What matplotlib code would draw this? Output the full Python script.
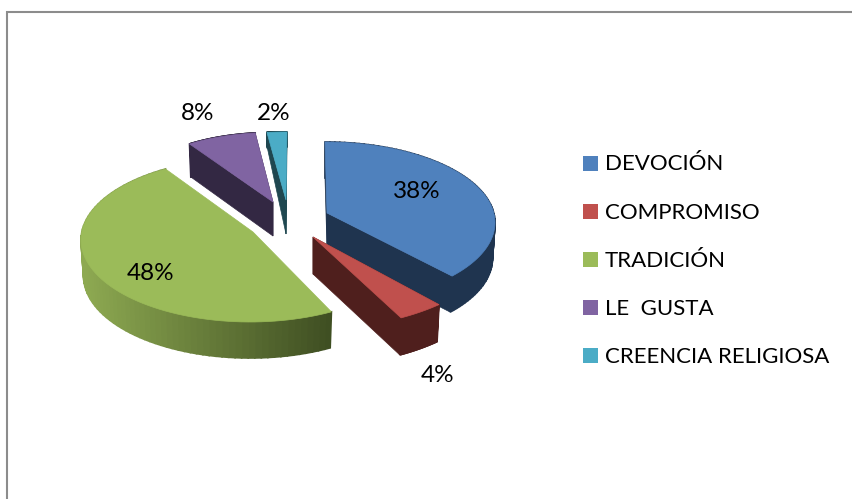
import matplotlib
matplotlib.use("Agg")
import matplotlib.pyplot as plt
from matplotlib.patches import Polygon, Rectangle
import numpy as np

categories = ["DEVOCIÓN", "COMPROMISO", "TRADICIÓN", "LE  GUSTA", "CREENCIA RELIGIOSA"]
values = [38, 4, 48, 8, 2]

top_colors = ["#4F81BD", "#C0504D", "#9BBB59", "#8064A2", "#4BACC6"]
wall_colors = ["#1F344F", "#4F1F1D", "#6A8339", "#332843", "#1F4750"]

# ellipse of each exploded slice in pixels: cx, cy, rx, ry
ellipses = [(325, 222.6, 170, 80.6), (311, 239, 187, 90), (250, 240, 169, 82),
            (273, 192.5, 142, 60), (287, 192, 160, 60)]
apexes = [(327, 213), (313, 237), (253, 232), (273, 202), (286, 200)]
depths = [36, 37, 36, 34, 34]
rim_depths = [36, 37, 36, 33, 15]
# small angle corrections for the perspective of the original
trim_start = [0, 0, 0, 0, 0]
trim_end = [-5.2, 0, 6, 0, 0]
label_pos = [(417, 191), (438, 375), (151, 273), (198, 113), (274, 113)]

plt.rcParams["font.family"] = ["Lato", "DejaVu Sans"]

fig = plt.figure(figsize=(8.53, 4.99), dpi=100)
ax = fig.add_axes([0, 0, 1, 1])
ax.set_xlim(0, 853)
ax.set_ylim(499, 0)
ax.axis("off")

# chart frame, only left and top are inside the picture
ax.plot([7, 7, 853], [499, 12, 12], color="#8C8C8C", lw=1.5, solid_joinstyle="miter")


def rim(e, t, k=1.0, dy=0.0):
    a = np.radians(t)
    return e[0] + e[2] * k * np.sin(a), e[1] + dy - e[3] * np.cos(a)


def mix(c1, c2, f):
    a = np.array(matplotlib.colors.to_rgb(c1))
    b = np.array(matplotlib.colors.to_rgb(c2))
    return tuple(a + (b - a) * f)


ends = np.cumsum(values) * 3.6
starts = ends - np.array(values) * 3.6

for i in range(len(values)):
    e = ellipses[i]
    apex = apexes[i]
    d = depths[i]
    rd = rim_depths[i]
    t1 = starts[i] + trim_start[i]
    t2 = ends[i] + trim_end[i]
    ts = np.linspace(t1, t2, 80)

    # cut faces
    for t in (t1, t2):
        x, y = rim(e, t)
        x2, y2 = rim(e, t, 0.985, rd)
        if i == 2:
            continue
        ax.add_patch(Polygon([(x, y), (x2, y2), (apex[0], apex[1] + d), apex],
                             fc=wall_colors[i], ec=wall_colors[i], lw=0.5))

    # outer wall, drawn in strips so the green one can be shaded
    for a, b in zip(ts[:-1], ts[1:]):
        p1 = rim(e, a)
        p2 = rim(e, b)
        p3 = rim(e, b, 0.985, rd)
        p4 = rim(e, a, 0.985, rd)
        if i == 2:
            f = np.clip((p1[0] - 85) / (333 - 85), 0, 1)
            col = mix("#8DA951", "#3F4E22", f)
        else:
            col = wall_colors[i]
        ax.add_patch(Polygon([p1, p2, p3, p4], fc=col, ec=col, lw=1.2))

    # top face
    xs, ys = rim(e, ts)
    pts = [apex] + list(zip(xs, ys))
    ax.add_patch(Polygon(pts, fc=top_colors[i], ec=top_colors[i], lw=0.5))

    ax.text(label_pos[i][0], label_pos[i][1], f"{values[i]}%", fontsize=17.5,
            ha="center", va="center", color="black")

# legend
for i, name in enumerate(categories):
    yc = 163.5 + i * 48.1
    ax.add_patch(Rectangle((583, yc - 7.5), 15, 15, fc=top_colors[i], ec="none"))
    ax.text(605, yc + 1, name, fontsize=16, ha="left", va="center", color="black")

fig.savefig("out.png", dpi=100)
